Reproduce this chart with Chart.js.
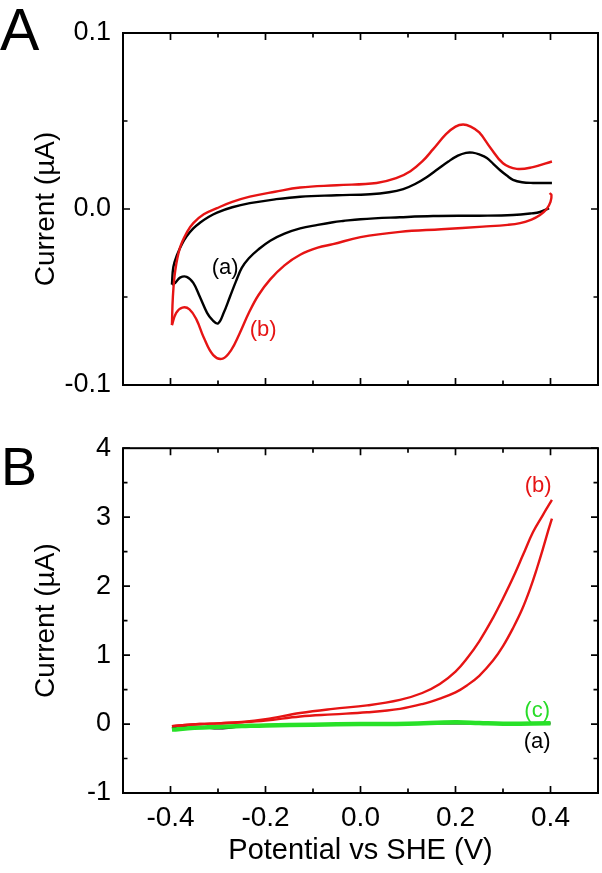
<!DOCTYPE html>
<html><head><meta charset="utf-8">
<script src="https://cdn.jsdelivr.net/npm/chart.js@4.4.1/dist/chart.umd.min.js"></script>
<style>
html,body{margin:0;padding:0;background:#fff;}
#wrap{position:relative;width:602px;height:873px;background:#fff;}
#ca{position:absolute;left:0;top:0;}
#cb{position:absolute;left:0;top:420px;}
</style></head><body>
<div id="wrap"><canvas id="ca" width="602" height="420"></canvas><canvas id="cb" width="602" height="453"></canvas></div>
<script>
// ---------- tick values ----------
const xTickValues = [-0.4, -0.2, 0, 0.2, 0.4];
const yTicksA = [-0.1, 0, 0.1];
const yTicksB = [-1, 0, 1, 2, 3, 4];

// ---------- Panel A : (a) black CV ----------
const aBlackFwdV = [-0.397,-0.394,-0.386,-0.376,-0.366,-0.352,-0.338,-0.32,-0.302,-0.27,-0.233,-0.18,-0.127,-0.05,0.02,0.06,0.09,0.115,0.14,0.163,0.185,0.205,0.222,0.236,0.25,0.266,0.28,0.294,0.308,0.321,0.34,0.363,0.403];
const aBlackFwdI = [-0.043,-0.033,-0.026,-0.020,-0.0155,-0.011,-0.0078,-0.0045,-0.002,0.001,0.0033,0.0055,0.007,0.0078,0.0084,0.0095,0.0113,0.0142,0.0182,0.0227,0.027,0.0303,0.0319,0.032,0.031,0.029,0.0255,0.022,0.019,0.0166,0.0152,0.0148,0.0148];
const aBlackRevV = [0.397,0.378,0.36,0.321,0.25,0.153,0.083,0.0,-0.037,-0.058,-0.09,-0.127,-0.16,-0.19,-0.215,-0.235,-0.25,-0.262,-0.275,-0.288,-0.30,-0.312,-0.323,-0.338,-0.352,-0.366,-0.38,-0.39,-0.397];
const aBlackRevI = [0.0005,-0.0017,-0.0025,-0.0034,-0.0038,-0.004,-0.0047,-0.0058,-0.0068,-0.0075,-0.009,-0.011,-0.014,-0.018,-0.023,-0.028,-0.0335,-0.041,-0.050,-0.059,-0.065,-0.063,-0.059,-0.050,-0.042,-0.0385,-0.039,-0.042,-0.043];

// ---------- Panel A : (b) red CV ----------
const aRedFwdV = [-0.397,-0.395,-0.39,-0.38,-0.365,-0.352,-0.33,-0.302,-0.27,-0.233,-0.18,-0.127,-0.05,0.034,0.075,0.105,0.13,0.153,0.18,0.2,0.216,0.232,0.25,0.273,0.30,0.329,0.363,0.403];
const aRedFwdI = [-0.066,-0.05,-0.035,-0.022,-0.013,-0.008,-0.003,0.0005,0.004,0.007,0.0098,0.0122,0.0135,0.0148,0.0175,0.0215,0.027,0.034,0.0425,0.0468,0.048,0.0468,0.0435,0.035,0.026,0.0228,0.0238,0.027];
const aRedRevV = [0.398,0.402,0.40,0.392,0.378,0.36,0.336,0.31,0.258,0.17,0.083,0.0,-0.058,-0.09,-0.127,-0.16,-0.19,-0.215,-0.235,-0.255,-0.272,-0.29,-0.31,-0.33,-0.345,-0.36,-0.375,-0.388,-0.397];
const aRedRevI = [0.009,0.008,0.004,0.0,-0.0034,-0.006,-0.008,-0.009,-0.010,-0.0115,-0.013,-0.016,-0.020,-0.022,-0.026,-0.032,-0.040,-0.049,-0.059,-0.071,-0.080,-0.085,-0.083,-0.073,-0.063,-0.057,-0.056,-0.059,-0.066];

// ---------- Panel B ----------
const bRedUpV = [-0.397,-0.338,-0.3,-0.25,-0.2,-0.127,-0.058,0.014,0.083,0.13,0.167,0.2,0.224,0.25,0.279,0.30,0.321,0.342,0.363,0.383,0.403];
const bRedUpI = [-0.03,0.0,0.01,0.03,0.07,0.16,0.22,0.27,0.35,0.45,0.58,0.76,0.95,1.2,1.54,1.82,2.12,2.45,2.78,3.02,3.25];
const bRedLowV = [-0.397,-0.338,-0.3,-0.25,-0.2,-0.127,-0.058,0.014,0.083,0.13,0.167,0.2,0.224,0.25,0.279,0.30,0.321,0.34,0.357,0.372,0.384,0.395,0.403];
const bRedLowI = [-0.03,0.0,0.01,0.025,0.05,0.11,0.14,0.17,0.22,0.29,0.37,0.46,0.56,0.70,0.92,1.13,1.39,1.66,1.96,2.27,2.54,2.8,2.98];
const bBlackV = [-0.397,-0.36,-0.33,-0.30,-0.27,-0.23,-0.15,0.0,0.1,0.2,0.3,0.4];
const bBlackI = [-0.06,-0.04,-0.05,-0.065,-0.05,-0.02,-0.01,0.0,0.005,0.01,0.01,0.01];
const bGreenV = [-0.397,-0.35,-0.3,-0.25,-0.2,-0.1,0.0,0.1,0.2,0.25,0.3,0.4];
const bGreenI = [-0.08,-0.055,-0.04,-0.03,-0.02,-0.01,0.0,0.005,0.025,0.015,0.005,0.01];

// ---------- annotation texts ----------
const notesA = [
  {text: '(a)', x: -0.285, y: -0.0335, color: '#000'},
  {text: '(b)', x: -0.205, y: -0.0685, color: 'rgb(230,20,20)'}
];
const notesB = [
  {text: '(b)', x: 0.374, y: 3.46, color: 'rgb(230,20,20)'},
  {text: '(c)', x: 0.372, y: 0.19, color: 'rgb(40,220,40)'},
  {text: '(a)', x: 0.372, y: -0.26, color: '#000'}
];

const RED = 'rgb(230,20,20)', GREEN = 'rgb(40,225,40)', BLACK = '#000';
const FONT = "'Liberation Sans', Arial, sans-serif";
Chart.defaults.font.family = FONT;
Chart.defaults.color = '#000';

const pts = (xs, ys) => xs.map((x, i) => ({x: x, y: ys[i]}));
const ds = (xs, ys, color, w) => ({data: pts(xs, ys), borderColor: color, borderWidth: w, showLine: true, pointRadius: 0, tension: 0.4, fill: false});

const framePlugin = {
  id: 'frame',
  afterDraw(chart, args, o) {
    const ctx = chart.ctx, a = chart.chartArea, x = chart.scales.x, y = chart.scales.y;
    ctx.save();
    ctx.strokeStyle = '#000';
    ctx.lineWidth = 2;
    ctx.strokeRect(a.left, a.top, a.right - a.left, a.bottom - a.top);
    ctx.lineWidth = 1.7;
    const maj = 7, mn = 4.5;
    ctx.beginPath();
    const vt = (v, len) => { const p = x.getPixelForValue(v); ctx.moveTo(p, a.top); ctx.lineTo(p, a.top + len); ctx.moveTo(p, a.bottom); ctx.lineTo(p, a.bottom - len); };
    const ht = (v, len) => { const p = y.getPixelForValue(v); ctx.moveTo(a.left, p); ctx.lineTo(a.left + len, p); ctx.moveTo(a.right, p); ctx.lineTo(a.right - len, p); };
    const xs = x.ticks.map(t => t.value), ys = y.ticks.map(t => t.value);
    xs.forEach(v => vt(v, maj));
    for (let i = 0; i < xs.length - 1; i++) vt((xs[i] + xs[i + 1]) / 2, mn);
    ys.forEach(v => ht(v, maj));
    for (let i = 0; i < ys.length - 1; i++) ht((ys[i] + ys[i + 1]) / 2, mn);
    ctx.stroke();
    ctx.textAlign = 'center';
    ctx.textBaseline = 'middle';
    ctx.font = '22px ' + FONT;
    (o.notes || []).forEach(n => {
      ctx.fillStyle = n.color;
      ctx.fillText(n.text, x.getPixelForValue(n.x), y.getPixelForValue(n.y));
    });
    if (o.letter) {
      ctx.textAlign = 'left';
      ctx.textBaseline = 'alphabetic';
      ctx.fillStyle = '#000';
      ctx.font = o.letter.size + 'px ' + FONT;
      ctx.fillText(o.letter.text, o.letter.x, o.letter.y);
    }
    ctx.restore();
  }
};

function opts(cfg) {
  return {
    responsive: false, animation: false, devicePixelRatio: 1,
    layout: {padding: cfg.padding},
    plugins: {legend: {display: false}, tooltip: {enabled: false}, frame: {notes: cfg.notes, letter: cfg.letter}},
    scales: {
      x: {
        type: 'linear', min: -0.5, max: 0.5,
        afterBuildTicks: s => { s.ticks = xTickValues.map(v => ({value: v})); },
        afterFit: s => { s.height = cfg.xHeight; },
        grid: {display: false, drawTicks: false},
        border: {display: false},
        ticks: {display: cfg.xLabels, font: {size: 28}, color: '#000', padding: 8, maxRotation: 0,
          callback: v => v.toFixed(1)},
        title: {display: cfg.xLabels, text: 'Potential vs SHE (V)', font: {size: 29}, color: '#000', padding: {top: 0, bottom: 5}}
      },
      y: {
        type: 'linear', min: cfg.ymin, max: cfg.ymax,
        afterBuildTicks: s => { s.ticks = cfg.yTicks.map(v => ({value: v})); },
        afterFit: s => { s.width = 123; },
        grid: {display: false, drawTicks: false},
        border: {display: false},
        ticks: {font: {size: 27}, color: '#000', padding: 12, callback: cfg.yFmt},
        title: {display: true, text: 'Current (µA)', font: {size: 28}, color: '#000', padding: {top: 29, bottom: 0}}
      }
    }
  };
}

new Chart(document.getElementById('ca'), {
  type: 'scatter',
  data: {datasets: [
    ds(aRedFwdV, aRedFwdI, RED, 2.4),
    ds(aRedRevV, aRedRevI, RED, 2.4),
    ds(aBlackFwdV, aBlackFwdI, BLACK, 2.4),
    ds(aBlackRevV, aBlackRevI, BLACK, 2.4)
  ]},
  options: opts({padding: {top: 33, right: 4, bottom: 0, left: 0}, xHeight: 35, xLabels: false,
    ymin: -0.1, ymax: 0.1, yTicks: yTicksA, yFmt: v => v.toFixed(1),
    notes: notesA, letter: {text: 'A', x: 0, y: 50, size: 59}}),
  plugins: [framePlugin]
});

new Chart(document.getElementById('cb'), {
  type: 'scatter',
  data: {datasets: [
    ds(bRedUpV, bRedUpI, RED, 2.4),
    ds(bRedLowV, bRedLowI, RED, 2.4),
    ds(bGreenV, bGreenI, GREEN, 4.5),
    ds(bBlackV, bBlackI, BLACK, 2.2)
  ]},
  options: opts({padding: {top: 25, right: 4, bottom: 0, left: 0}, xHeight: 80, xLabels: true,
    ymin: -1, ymax: 4, yTicks: yTicksB, yFmt: v => String(v),
    notes: notesB, letter: {text: 'B', x: 1, y: 65, size: 54}}),
  plugins: [framePlugin]
});
</script>
</body></html>
